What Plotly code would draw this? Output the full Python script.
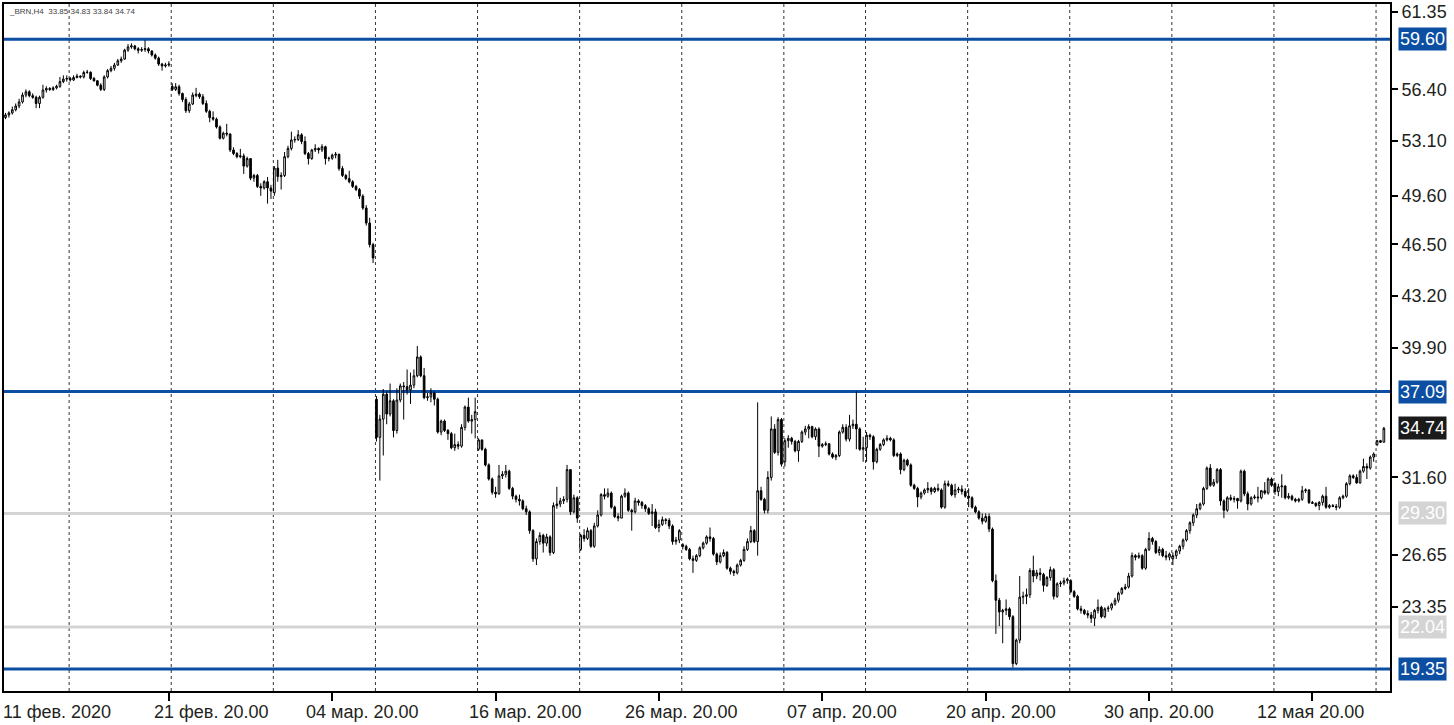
import pandas as pd
import plotly.graph_objects as go

symbol = "_BRN,H4"
first_bar = "2020-02-11 20:00"
closed_days = ["2020-04-10"]
month_ru = {2: "фев.", 3: "мар.", 4: "апр.", 5: "мая"}

# H4 bars
open_ = [
    54.6, 54.77, 54.9, 55.1, 55.34, 55.6, 56.04, 56.25, 56.0, 55.9, 55.5, 55.9, 56.36, 56.46, 56.4, 56.5, 56.6, 56.9, 57.06,
    57.1, 57.0, 57.16, 57.25, 57.2, 57.48, 57.5, 57.1, 56.95, 56.67, 56.4, 57.2, 57.6, 57.75, 57.96, 58.23, 58.34, 58.91, 59.12, 59.18, 59.0, 58.9, 58.95, 59.0, 58.86, 58.6, 58.4, 58.02, 57.9, 57.96,
    56.6, 56.4, 56.57, 56.14, 55.76, 55.04, 55.47, 56.0, 56.1, 55.93, 55.5, 55.0, 54.6, 54.5, 54.0, 53.28, 53.6, 53.55, 52.53, 52.3, 52.1, 52.15, 51.5, 51.98, 50.73, 50.9, 50.2, 50.1, 50.5, 50.1,
    49.8, 51.37, 50.83, 50.9, 52.1, 52.63, 53.17, 53.2, 53.5, 53.07, 52.3, 51.98, 52.53, 52.63, 52.53, 52.74, 51.98, 52.0, 52.2, 52.25, 51.34, 50.9, 50.7, 50.5, 50.2, 50.0, 49.58, 48.82, 47.86, 46.48,
    36.6, 34.16, 35.33, 36.92, 35.65, 36.5, 34.6, 36.55, 37.45, 37.4, 37.2, 37.5, 38.1, 39.3, 38.1, 36.7, 36.75, 37.0, 36.6, 34.5, 35.2, 34.6, 34.4, 33.5, 33.7, 33.6, 34.8, 36.1, 35.2, 35.3,
    33.4, 34.0, 33.4, 32.4, 31.5, 30.65, 30.55, 31.7, 31.8, 32.0, 30.9, 30.4, 30.2, 30.1, 29.6, 29.4, 28.2, 26.4, 27.5, 27.9, 27.4, 27.8, 26.8, 29.8, 29.9, 30.1, 30.2, 32.1, 29.4, 30.3,
    27.0, 27.9, 27.7, 28.2, 27.2, 28.5, 29.2, 30.5, 30.4, 30.6, 29.7, 29.1, 29.0, 30.4, 30.6, 29.5, 29.4, 30.1, 30.0, 29.8, 29.6, 29.3, 29.4, 28.4, 28.6, 28.9, 28.85, 28.5, 27.5, 27.6,
    27.3, 27.2, 27.0, 26.4, 26.3, 26.6, 27.1, 27.4, 27.8, 27.7, 26.7, 26.2, 26.6, 26.8, 25.8, 25.6, 25.5, 26.0, 26.3, 27.0, 27.5, 28.2, 27.5, 30.75, 30.2, 29.5, 31.6, 34.7, 33.2, 35.3,
    32.6, 33.95, 34.1, 33.9, 33.3, 33.9, 34.5, 34.7, 34.85, 34.2, 34.7, 33.6, 33.7, 33.75, 33.1, 32.9, 33.0, 34.5, 34.8, 34.05, 34.9, 35.0, 34.7, 33.4,
    33.5, 34.3, 34.2, 32.6, 33.4, 33.7, 34.0, 34.1, 34.0, 33.0, 33.1, 32.1, 32.7, 32.4, 31.1, 30.9, 30.35, 30.6, 30.8, 30.9, 30.7, 30.9, 30.8, 29.7, 31.2, 31.1, 30.5, 30.8, 30.85, 30.7,
    30.4, 30.3, 29.7, 29.4, 29.0, 28.8, 29.1, 28.3, 25.0, 23.75, 23.0, 23.1, 23.2, 22.7, 19.7, 21.2, 23.95, 24.0, 24.1, 25.65, 25.3, 25.5, 25.4, 24.7, 25.2, 25.7, 24.0, 24.8, 24.85, 25.0,
    25.0, 24.3, 24.0, 23.2, 23.1, 22.9, 22.8, 22.6, 23.1, 23.3, 22.7, 23.2, 23.25, 23.5, 23.75, 24.2, 24.5, 24.6, 25.3, 26.6, 26.5, 26.6, 25.8, 27.0, 27.7, 27.5, 26.8, 27.0, 26.6, 26.5,
    26.4, 26.6, 26.9, 27.2, 27.6, 28.2, 28.7, 29.2, 29.6, 29.9, 30.9, 32.2, 31.1, 31.3, 32.1, 30.1, 29.5, 30.3, 30.2, 30.25, 30.1, 32.0, 30.55, 29.9, 30.3, 30.35, 30.3, 30.75, 30.6, 31.5,
    31.2, 30.7, 31.0, 31.05, 30.3, 30.4, 30.2, 30.1, 30.2, 30.75, 30.8, 30.0, 29.95, 29.8, 30.0, 30.4, 29.7, 29.8, 29.75, 29.7, 30.3, 30.4, 31.2, 31.7, 31.6, 31.25, 32.0, 32.3, 32.2, 32.9,
    33.7, 33.95, 33.85,
]
high = [
    54.9, 55.0, 55.3, 55.5, 55.8, 56.2, 56.4, 56.35, 56.15, 56.0, 56.0, 56.7, 56.6, 56.55, 56.6, 56.7, 57.2, 57.3, 57.3,
    57.2, 57.3, 57.4, 57.3, 57.6, 57.65, 57.55, 57.2, 57.0, 56.8, 57.3, 57.7, 57.9, 58.1, 58.35, 58.5, 59.0, 59.3, 59.35, 59.25, 59.1, 59.1, 59.55, 59.1, 58.9, 58.7, 58.5, 58.1, 58.1, 58.2,
    56.8, 56.8, 56.7, 56.2, 55.9, 55.6, 56.2, 56.5, 56.2, 56.1, 55.7, 55.1, 55.0, 54.6, 54.1, 53.7, 54.2, 53.6, 52.7, 52.4, 52.6, 52.3, 52.1, 52.0, 51.0, 51.0, 50.4, 50.6, 50.8, 50.3,
    51.5, 51.9, 51.1, 52.4, 52.8, 53.7, 53.4, 53.8, 53.6, 53.4, 52.4, 52.6, 52.9, 52.7, 52.9, 52.8, 52.1, 52.3, 52.4, 52.3, 51.5, 51.0, 51.2, 50.6, 50.3, 50.1, 49.7, 49.0, 48.2, 46.6,
    36.8, 35.6, 37.25, 37.1, 37.6, 36.6, 37.3, 37.6, 37.7, 38.5, 38.3, 38.5, 40.0, 39.4, 38.6, 37.0, 37.3, 37.1, 36.7, 35.3, 35.3, 34.7, 34.5, 34.4, 33.9, 35.0, 36.2, 36.7, 35.6, 36.7,
    34.1, 34.0, 33.5, 32.5, 31.6, 31.0, 32.4, 32.0, 32.4, 32.1, 31.0, 30.5, 30.5, 30.2, 29.8, 29.5, 28.3, 27.7, 28.1, 28.0, 28.0, 27.9, 30.0, 31.0, 30.3, 30.4, 32.4, 32.1, 30.5, 30.4,
    28.0, 28.3, 28.4, 28.3, 28.7, 29.5, 30.6, 30.9, 30.9, 30.7, 29.8, 29.3, 30.5, 30.9, 30.7, 29.6, 30.3, 30.2, 30.1, 29.9, 29.7, 29.9, 29.6, 28.9, 29.1, 29.0, 29.0, 28.6, 27.8, 28.3,
    27.4, 27.3, 27.1, 26.6, 26.7, 27.2, 27.5, 27.9, 28.4, 27.8, 26.8, 26.8, 27.0, 26.9, 25.9, 25.7, 26.1, 26.4, 27.2, 27.7, 28.5, 28.3, 36.4, 31.0, 30.3, 32.0, 35.5, 35.0, 35.45, 35.4,
    34.1, 34.3, 34.2, 34.0, 34.0, 34.6, 34.9, 35.0, 34.9, 34.8, 34.8, 33.8, 33.9, 33.8, 33.2, 33.1, 34.6, 35.0, 35.0, 35.6, 35.3, 37.1, 34.8, 34.2,
    34.5, 34.4, 34.3, 33.5, 33.8, 34.1, 34.3, 34.2, 34.1, 33.2, 33.2, 32.8, 32.8, 32.5, 31.2, 31.0, 30.7, 30.9, 31.3, 31.0, 31.0, 31.2, 30.9, 31.4, 31.4, 31.2, 31.2, 31.0, 31.1, 30.9,
    30.9, 30.4, 29.8, 29.5, 29.3, 29.3, 29.3, 28.4, 25.4, 23.9, 23.2, 23.8, 23.3, 22.8, 21.3, 25.3, 24.3, 24.5, 25.8, 26.6, 25.7, 25.8, 25.5, 25.3, 25.9, 25.8, 24.9, 25.0, 25.2, 25.2,
    25.1, 24.4, 24.1, 23.4, 23.2, 23.1, 23.0, 23.2, 23.8, 23.4, 23.3, 23.4, 23.6, 23.9, 24.3, 24.6, 24.8, 25.5, 26.8, 26.7, 26.8, 26.7, 27.1, 28.1, 27.8, 27.6, 27.2, 27.1, 26.9, 26.8,
    26.8, 27.0, 27.3, 27.7, 28.3, 28.8, 29.3, 29.9, 30.0, 31.0, 32.3, 32.45, 31.5, 32.2, 32.2, 30.2, 30.4, 30.5, 30.4, 30.3, 32.1, 32.1, 30.7, 30.4, 30.5, 31.0, 30.8, 31.3, 31.6, 31.6,
    31.3, 31.2, 31.8, 31.1, 30.6, 30.5, 30.3, 30.3, 31.05, 30.9, 30.85, 30.1, 30.0, 30.1, 30.5, 31.0, 29.9, 29.9, 29.9, 30.4, 30.5, 31.3, 31.8, 31.8, 31.8, 32.1, 32.8, 32.5, 33.0, 33.2,
    34.0, 34.0, 34.83,
]
low = [
    54.5, 54.6, 54.8, 55.0, 55.2, 55.5, 55.9, 55.9, 55.8, 55.2, 55.2, 55.8, 56.2, 56.3, 56.3, 56.4, 56.5, 56.8, 56.9,
    56.9, 56.95, 57.1, 57.1, 57.1, 57.4, 57.0, 56.9, 56.6, 56.3, 56.3, 57.1, 57.5, 57.6, 57.9, 58.1, 58.3, 58.8, 59.0, 58.9, 58.7, 58.8, 58.8, 58.7, 58.5, 58.3, 57.9, 57.6, 57.8, 57.85,
    56.3, 56.3, 56.0, 55.6, 54.9, 54.9, 55.4, 55.9, 55.8, 55.4, 54.9, 54.3, 54.4, 53.9, 53.2, 53.2, 53.4, 52.4, 52.2, 52.0, 52.0, 51.0, 51.4, 50.6, 50.5, 50.1, 49.6, 50.0, 49.1, 49.4,
    49.6, 50.5, 50.0, 50.8, 52.0, 52.5, 53.0, 53.1, 52.9, 52.2, 51.6, 51.9, 52.4, 52.3, 52.4, 51.6, 51.8, 51.9, 52.0, 51.2, 50.8, 50.6, 50.4, 50.1, 49.9, 49.4, 48.7, 47.7, 46.3, 45.3,
    33.9, 31.4, 33.0, 35.0, 35.5, 34.16, 34.4, 36.4, 35.3, 36.9, 36.3, 37.3, 38.0, 38.0, 36.6, 36.5, 36.4, 36.2, 34.4, 34.3, 34.5, 34.0, 33.4, 33.3, 33.4, 33.5, 34.6, 35.1, 34.4, 34.1,
    33.3, 33.3, 32.3, 31.4, 30.5, 30.3, 30.5, 31.5, 31.6, 30.8, 30.2, 30.0, 29.8, 29.5, 29.2, 28.0, 26.2, 26.0, 27.3, 26.8, 27.2, 26.6, 26.7, 29.6, 29.7, 29.9, 30.0, 29.2, 29.3, 28.7,
    26.9, 27.5, 27.6, 27.1, 27.1, 28.4, 29.1, 30.2, 30.3, 29.6, 29.0, 28.8, 29.0, 30.3, 29.4, 28.2, 29.3, 29.8, 29.6, 29.4, 29.2, 28.5, 28.3, 28.1, 28.5, 28.6, 28.3, 27.3, 27.3, 27.4,
    27.0, 26.9, 26.3, 25.5, 26.2, 26.5, 27.0, 27.3, 27.5, 26.6, 26.0, 26.1, 26.5, 25.7, 25.4, 25.3, 25.4, 25.9, 26.2, 26.9, 27.4, 27.4, 26.6, 30.1, 29.3, 29.3, 31.4, 33.1, 33.0, 32.3,
    32.3, 33.5, 33.7, 33.2, 32.6, 33.8, 34.3, 34.1, 34.1, 34.0, 32.9, 33.5, 33.6, 33.0, 32.8, 32.7, 32.9, 34.4, 33.9, 33.9, 34.7, 33.4, 33.3, 32.6,
    32.6, 34.0, 32.1, 32.5, 33.3, 33.6, 33.9, 33.9, 32.9, 32.9, 31.8, 32.0, 32.3, 31.0, 30.8, 29.7, 30.2, 30.5, 30.6, 30.5, 30.6, 30.7, 29.6, 29.6, 31.0, 30.4, 30.3, 30.6, 30.5, 30.3,
    29.7, 29.6, 29.3, 28.9, 28.6, 28.7, 28.1, 24.9, 21.6, 22.1, 21.0, 22.8, 22.5, 19.45, 19.6, 21.0, 23.5, 23.5, 23.9, 24.9, 25.1, 25.0, 24.3, 24.6, 25.0, 23.8, 23.9, 24.6, 24.7, 24.8,
    24.2, 23.9, 23.1, 22.9, 22.8, 22.6, 22.3, 22.1, 22.9, 22.6, 22.6, 23.0, 23.1, 23.4, 23.6, 24.1, 24.4, 24.5, 25.2, 26.3, 26.4, 25.7, 25.7, 26.9, 27.3, 26.7, 26.6, 26.5, 26.3, 26.3,
    26.0, 26.4, 26.7, 27.0, 27.5, 28.0, 28.5, 29.0, 29.5, 29.8, 30.8, 31.0, 31.0, 31.2, 29.8, 29.0, 29.4, 30.1, 30.0, 29.6, 30.0, 30.4, 29.5, 29.8, 30.2, 30.0, 30.2, 30.5, 30.5, 31.0,
    30.5, 30.4, 30.3, 30.2, 30.2, 30.1, 30.0, 30.0, 30.1, 30.6, 29.9, 29.9, 29.7, 29.5, 29.8, 29.6, 29.6, 29.7, 29.5, 29.6, 30.2, 30.3, 31.1, 31.5, 31.2, 31.2, 31.9, 31.5, 32.1, 32.6,
    33.6, 33.8, 33.84,
]
close = [
    54.77, 54.9, 55.1, 55.34, 55.6, 56.04, 56.25, 56.0, 55.9, 55.5, 55.9, 56.36, 56.46, 56.4, 56.5, 56.6, 56.9, 57.06, 57.1,
    57.0, 57.16, 57.25, 57.2, 57.48, 57.5, 57.1, 56.95, 56.67, 56.4, 57.2, 57.6, 57.75, 57.96, 58.23, 58.34, 58.91, 59.12, 59.18, 59.0, 58.9, 58.95, 59.0, 58.86, 58.6, 58.4, 58.02, 57.9, 57.96, 58.02,
    56.4, 56.57, 56.14, 55.76, 55.04, 55.47, 56.04, 56.1, 55.93, 55.5, 55.0, 54.6, 54.5, 54.0, 53.28, 53.6, 53.55, 52.53, 52.3, 52.1, 52.15, 51.5, 51.98, 50.73, 50.9, 50.2, 50.1, 50.5, 50.1, 49.9,
    51.37, 50.83, 50.9, 52.1, 52.63, 53.17, 53.2, 53.5, 53.07, 52.3, 51.98, 52.53, 52.63, 52.53, 52.74, 51.98, 52.0, 52.2, 52.25, 51.34, 50.9, 50.7, 50.5, 50.2, 50.0, 49.58, 48.82, 47.86, 46.48, 45.63,
    34.16, 35.33, 36.92, 35.65, 36.5, 34.6, 36.55, 37.45, 37.4, 37.2, 37.5, 38.1, 39.3, 38.1, 36.7, 36.75, 37.0, 36.6, 34.5, 35.2, 34.6, 34.4, 33.5, 33.7, 33.6, 34.8, 36.1, 35.2, 35.3, 35.8,
    34.0, 33.4, 32.4, 31.5, 30.65, 30.55, 31.7, 31.8, 32.0, 30.9, 30.4, 30.2, 30.1, 29.6, 29.4, 28.2, 26.4, 27.5, 27.9, 27.4, 27.8, 26.8, 29.8, 29.9, 30.1, 30.2, 32.1, 29.4, 30.3, 29.0,
    27.9, 27.7, 28.2, 27.2, 28.5, 29.2, 30.5, 30.4, 30.6, 29.7, 29.1, 29.0, 30.4, 30.6, 29.5, 29.4, 30.1, 30.0, 29.8, 29.6, 29.3, 29.4, 28.4, 28.6, 28.9, 28.85, 28.5, 27.5, 27.6, 28.2,
    27.2, 27.0, 26.4, 26.3, 26.6, 27.1, 27.4, 27.8, 27.7, 26.7, 26.2, 26.6, 26.8, 25.8, 25.6, 25.5, 26.0, 26.3, 27.0, 27.5, 28.2, 27.5, 30.75, 30.2, 29.5, 31.6, 34.7, 33.2, 35.3, 32.45,
    33.95, 34.1, 33.9, 33.3, 33.9, 34.5, 34.7, 34.85, 34.2, 34.7, 33.6, 33.7, 33.75, 33.1, 32.9, 33.0, 34.5, 34.8, 34.05, 34.9, 35.0, 34.7, 33.4, 33.5,
    34.3, 34.2, 32.6, 33.4, 33.7, 34.0, 34.1, 34.0, 33.0, 33.1, 32.1, 32.7, 32.4, 31.1, 30.9, 30.35, 30.6, 30.8, 30.9, 30.7, 30.9, 30.8, 29.7, 31.2, 31.1, 30.5, 30.8, 30.85, 30.7, 30.4,
    30.3, 29.7, 29.4, 29.0, 28.8, 29.1, 28.3, 25.0, 23.75, 23.0, 23.1, 23.2, 22.7, 19.7, 21.2, 23.95, 24.0, 24.1, 25.65, 25.3, 25.5, 25.4, 24.7, 25.2, 25.7, 24.0, 24.8, 24.85, 25.0, 25.1,
    24.3, 24.0, 23.2, 23.1, 22.9, 22.8, 22.6, 23.1, 23.3, 22.7, 23.2, 23.25, 23.5, 23.75, 24.2, 24.5, 24.6, 25.3, 26.6, 26.5, 26.6, 25.8, 27.0, 27.7, 27.5, 26.8, 27.0, 26.6, 26.5, 26.7,
    26.6, 26.9, 27.2, 27.6, 28.2, 28.7, 29.2, 29.6, 29.9, 30.9, 32.2, 31.1, 31.3, 32.1, 30.1, 29.5, 30.3, 30.2, 30.25, 30.1, 32.0, 30.55, 29.9, 30.3, 30.35, 30.3, 30.75, 30.6, 31.5, 31.1,
    30.7, 31.0, 31.05, 30.3, 30.4, 30.2, 30.1, 30.2, 30.75, 30.8, 30.0, 29.95, 29.8, 30.0, 30.4, 29.7, 29.8, 29.75, 29.7, 30.3, 30.4, 31.2, 31.7, 31.6, 31.25, 32.0, 32.3, 32.2, 32.9, 33.1,
    33.95, 33.85, 34.74,
]

blue_levels = [59.60, 37.09, 19.35]
gray_levels = [29.30, 22.04]
price_ticks = [61.35, 56.40, 53.10, 49.60, 46.50, 43.20, 39.90, 31.60, 26.65, 23.35]

BLUE = "#0b4ea2"
GRAY = "#d4d4d4"
INK = "#231f20"
FONT = "Liberation Sans, Arial, sans-serif"

# bar clock: 6 H4 bars per trading day
n = len(close)
days = [d for d in pd.bdate_range("2020-02-11", "2020-06-30")
        if d.strftime("%Y-%m-%d") not in closed_days]
times = [d + pd.Timedelta(hours=h) for d in days for h in range(0, 24, 4)]
times = [t for t in times if t >= pd.Timestamp(first_bar)][:n]
xs = list(range(n))

mondays = [i for i, t in enumerate(times) if t.weekday() == 0 and t.hour == 0]
tick_idx = list(range(48, n, 48))
label_shift = [42, 30, 29, 22, 20, 15, 10, -2]  # labels drift right of their ticks in the source

fig = go.Figure(go.Candlestick(
    x=xs, open=open_, high=high, low=low, close=close,
    increasing=dict(line=dict(color="black", width=1), fillcolor="white"),
    decreasing=dict(line=dict(color="black", width=1), fillcolor="black"),
    whiskerwidth=0, hoverinfo="skip",
))

shapes = []
for i in mondays:
    shapes.append(dict(type="line", xref="x", yref="paper", x0=i - 0.3, x1=i - 0.3, y0=0, y1=1,
                       line=dict(color="#333", width=1, dash="3px,3px"), layer="below"))
for v in gray_levels:
    shapes.append(dict(type="line", xref="paper", yref="y", x0=0, x1=1, y0=v, y1=v,
                       line=dict(color=GRAY, width=3), layer="below"))
for v in blue_levels:
    shapes.append(dict(type="line", xref="paper", yref="y", x0=0, x1=1, y0=v, y1=v,
                       line=dict(color=BLUE, width=3), layer="below"))

annotations = []


def price_box(v, bg):
    return dict(xref="paper", yref="y", x=1, y=v, xanchor="left", yanchor="middle", xshift=8,
                text=f"{v:.2f}", showarrow=False, bgcolor=bg, borderpad=1,
                font=dict(family=FONT, size=18, color="white"))


for v in blue_levels:
    annotations.append(price_box(v, BLUE))
for v in gray_levels:
    annotations.append(price_box(v, GRAY))
annotations.append(price_box(close[-1], "#1a1a1a"))

t0 = times[0]
annotations.append(dict(xref="paper", yref="paper", x=0, y=0, xanchor="left", yanchor="top",
                        xshift=-3, yshift=-9, showarrow=False,
                        text=f"{t0.day:02d} {month_ru[t0.month]} {t0.year}",
                        font=dict(family=FONT, size=18, color=INK)))
for k, i in enumerate(tick_idx):
    t = times[i]
    annotations.append(dict(xref="x", yref="paper", x=i, y=0, xanchor="center", yanchor="top",
                            xshift=label_shift[k], yshift=-9, showarrow=False,
                            text=f"{t.day:02d} {month_ru[t.month]} {t.hour:02d}.{t.minute:02d}",
                            font=dict(family=FONT, size=18, color=INK)))

annotations.append(dict(xref="paper", yref="paper", x=0, y=1, xanchor="left", yanchor="top",
                        xshift=3, yshift=-1, showarrow=False,
                        text=f"{symbol}  {open_[-1]:.2f} {high[-1]:.2f} {low[-1]:.2f} {close[-1]:.2f}",
                        font=dict(family=FONT, size=8, color="#444")))

fig.update_layout(
    width=1454, height=725,
    margin=dict(l=3, r=64, t=2, b=34),
    paper_bgcolor="white", plot_bgcolor="white",
    showlegend=False, hovermode=False,
    shapes=shapes, annotations=annotations,
    xaxis=dict(range=[-0.44, 406.8], rangeslider=dict(visible=False),
               tickvals=tick_idx, showticklabels=False, ticks="outside", ticklen=8, tickwidth=2,
               tickcolor="black", showgrid=False, zeroline=False,
               showline=True, linewidth=2, linecolor="black", mirror=True),
    yaxis=dict(side="right", range=[17.95, 61.86],
               tickvals=price_ticks, ticktext=[f"{v:.2f}" for v in price_ticks],
               ticks="outside", ticklen=6, tickwidth=2, tickcolor="black",
               tickfont=dict(family=FONT, size=18, color=INK),
               showgrid=False, zeroline=False,
               showline=True, linewidth=2, linecolor="black", mirror=True),
)

# the page's default body margin would push the 1454x725 figure off the window
fig.write_html("out.html", config={"displayModeBar": False},
               post_script="document.body.style.margin='0';")
